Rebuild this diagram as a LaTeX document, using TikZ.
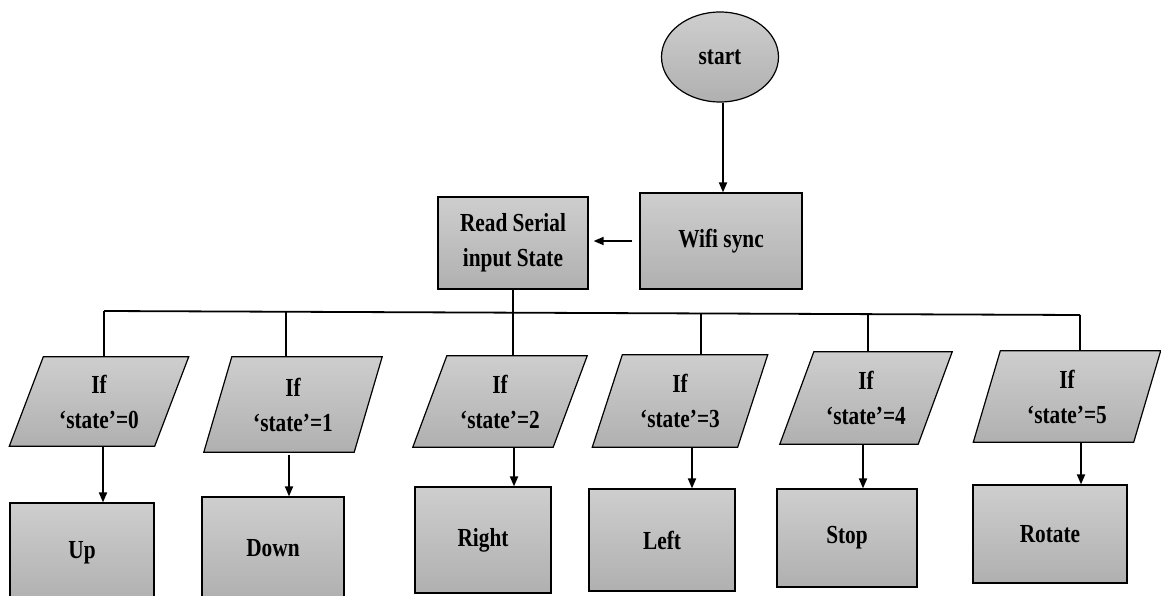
\documentclass[tikz,border=0pt]{standalone}
\usepackage{fontspec}
\setmainfont{Liberation Serif}[FakeStretch=0.82]
\usetikzlibrary{arrows.meta,backgrounds,shapes.geometric}
\definecolor{shadetop}{RGB}{206,206,206}
\definecolor{shadebot}{RGB}{176,176,176}
\tikzset{
  lbl/.style={font=\fontsize{26}{35}\selectfont\bfseries, align=center, text=black},
  greyfill/.style={top color=shadetop, bottom color=shadebot, draw=black, line width=1.2pt},
  procbox/.style={greyfill, rectangle, lbl, inner sep=0pt},
  ioslot/.style={rectangle, lbl, inner sep=0pt},
  conn/.style={line width=1.8pt},
  arr/.style={conn, -{Triangle[length=10pt,width=8pt]}},
}
\newcommand\slantbox[2]{%
  \path[greyfill] ([xshift=#2]#1.north west) -- ([xshift=#2]#1.north east)
    -- ([xshift=-#2]#1.south east) -- ([xshift=-#2]#1.south west) -- cycle;}
\begin{document}
\begin{tikzpicture}[x=1pt,y=-1pt]
\useasboundingbox (0,0) rectangle (1161,596);
\begin{scope}
\clip (0,0) rectangle (1161,596);
% top
\node[greyfill, ellipse, lbl, minimum width=117, minimum height=90, inner sep=0pt] (start) at (720,57) {start};
\node[procbox, minimum width=162, minimum height=96] (wifi) at (721,241) {Wifi sync};
\node[procbox, minimum width=150, minimum height=92] (read) at (513,243) {Read Serial\\input State};
% decisions (text slots)
\node[ioslot, minimum width=145, minimum height=89] (p0) at (99,401.5) {If\\‘state’=0};
\node[ioslot, minimum width=150, minimum height=95] (p1) at (293,404.5) {If\\‘state’=1};
\node[ioslot, minimum width=140, minimum height=91] (p2) at (500,401.5) {If\\‘state’=2};
\node[ioslot, minimum width=145, minimum height=92] (p3) at (680,401) {If\\‘state’=3};
\node[ioslot, minimum width=138, minimum height=92] (p4) at (866,398) {If\\‘state’=4};
\node[ioslot, minimum width=160, minimum height=91] (p5) at (1067,396.5) {If\\‘state’=5};
\begin{scope}[on background layer]
\slantbox{p0}{17}
\slantbox{p1}{14}
\slantbox{p2}{17}
\slantbox{p3}{15}
\slantbox{p4}{17}
\slantbox{p5}{13.5}
\end{scope}
% action boxes
\node[procbox, minimum width=144, minimum height=100] (up) at (82,553) {Up};
\node[procbox, minimum width=142, minimum height=102] (down) at (273,548) {Down};
\node[procbox, minimum width=136, minimum height=106] (right) at (483,540) {Right};
\node[procbox, minimum width=146, minimum height=102] (left) at (662,540) {Left};
\node[procbox, minimum width=140, minimum height=98] (stop) at (847,538) {Stop};
\node[procbox, minimum width=154, minimum height=98] (rotate) at (1050,534) {Rotate};
% connectors
\draw[arr] ([xshift=3pt]start.south) -- ([xshift=3pt]start.south |- wifi.north);
\draw[arr, shorten <=7pt, shorten >=5pt] (wifi.west) -- (wifi.west -| read.east);
\coordinate (b0) at (104,311);
\coordinate (b1) at (286,311);
\coordinate (b2) at (513,312);
\coordinate (b3) at (701,313);
\coordinate (b4) at (868,314);
\coordinate (b5) at (1080,315);
\draw[conn] (read.south) -- (b2);
\draw[conn] (b0) -- (b5);
\foreach \i in {0,...,5} { \draw[conn] (b\i) -- (b\i |- p\i.north); }
\draw[arr] ([xshift=4pt]p0.south) -- ([xshift=4pt]p0.south |- up.north);
\draw[arr, shorten <=3pt] ([xshift=-4pt]p1.south) -- ([xshift=-4pt]p1.south |- down.north);
\draw[arr] ([xshift=14pt]p2.south) -- ([xshift=14pt]p2.south |- right.north);
\draw[arr] ([xshift=12pt]p3.south) -- ([xshift=12pt]p3.south |- left.north);
\draw[arr] ([xshift=-3pt]p4.south) -- ([xshift=-3pt]p4.south |- stop.north);
\draw[arr] ([xshift=14pt]p5.south) -- ([xshift=14pt]p5.south |- rotate.north);
\end{scope}
\end{tikzpicture}
\end{document}
